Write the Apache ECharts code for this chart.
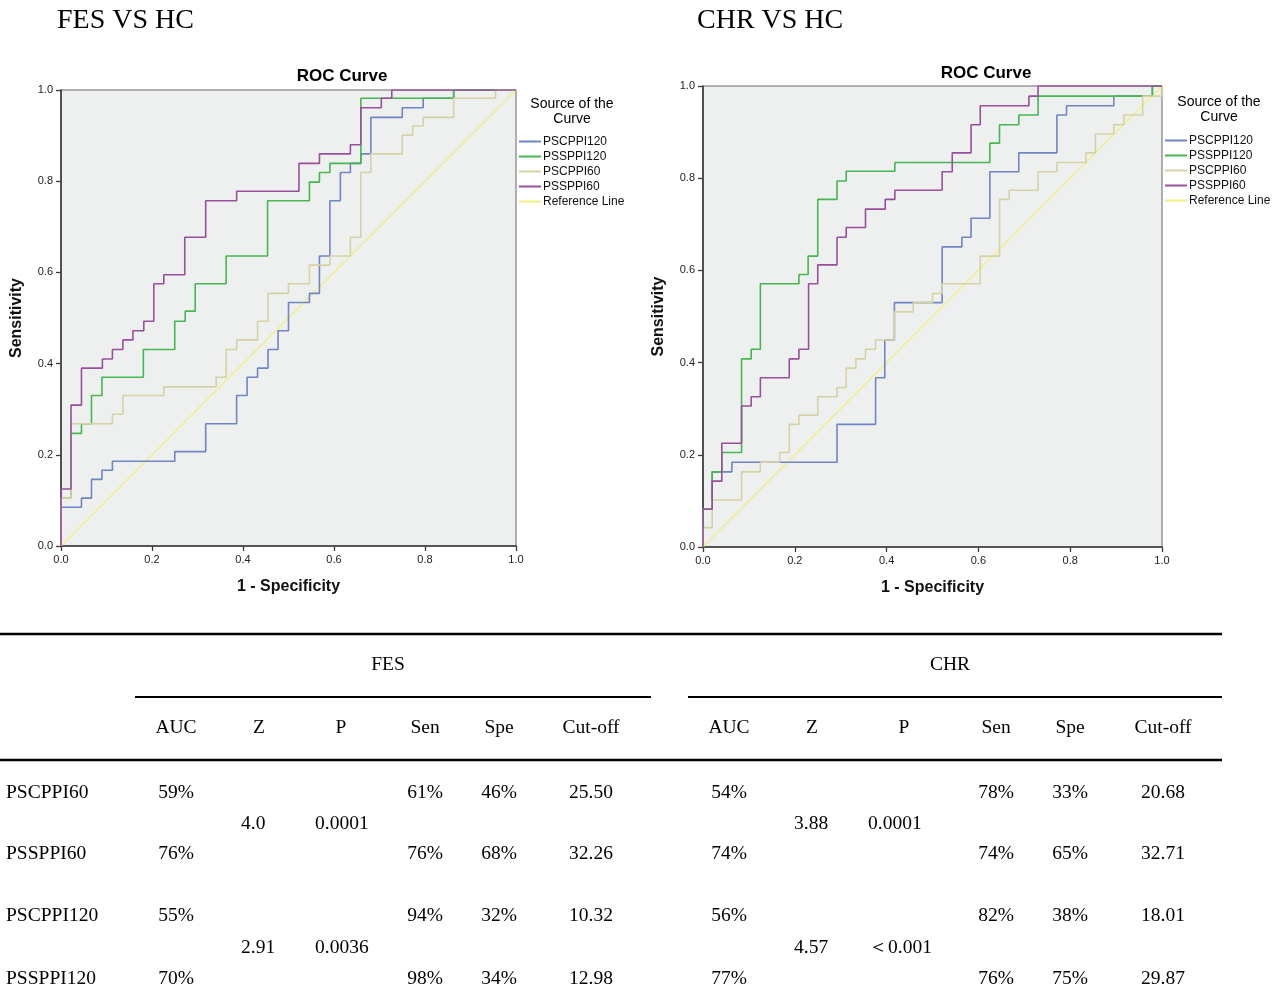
<!DOCTYPE html>
<html><head><meta charset="utf-8">
<script src="https://cdn.jsdelivr.net/npm/echarts@6/dist/echarts.min.js"></script>
<style>html,body{margin:0;padding:0;background:#fff}#c{width:1280px;height:1005px}</style>
</head><body><div id="c"></div>
<script>
// ---------- DATA ----------
const curveNames = ['PSCPPI120', 'PSSPPI120', 'PSCPPI60', 'PSSPPI60'];
const refName = 'Reference Line';
const axisTicks = [0, 0.2, 0.4, 0.6, 0.8, 1.0];

// FES vs HC ROC points [1-specificity, sensitivity]
const fes_PSCPPI120 = [[0,0],[0,0.085],[0.045,0.105],[0.067,0.146],[0.090,0.166],[0.113,0.186],[0.250,0.207],[0.318,0.268],[0.386,0.330],[0.409,0.370],[0.432,0.390],[0.455,0.431],[0.477,0.472],[0.500,0.534],[0.546,0.554],[0.568,0.636],[0.591,0.757],[0.614,0.819],[0.636,0.839],[0.659,0.860],[0.681,0.940],[0.750,0.961],[0.796,0.982],[0.863,1.0],[1,1]];
const fes_PSSPPI120 = [[0,0],[0,0.105],[0.022,0.247],[0.045,0.268],[0.067,0.330],[0.090,0.370],[0.181,0.431],[0.250,0.493],[0.273,0.515],[0.295,0.575],[0.363,0.636],[0.454,0.757],[0.546,0.798],[0.568,0.819],[0.591,0.839],[0.659,0.982],[0.863,1.0],[1,1]];
const fes_PSCPPI60 = [[0,0],[0,0.105],[0.022,0.268],[0.113,0.289],[0.136,0.330],[0.226,0.349],[0.341,0.370],[0.363,0.431],[0.386,0.452],[0.432,0.493],[0.455,0.554],[0.500,0.575],[0.546,0.616],[0.591,0.636],[0.636,0.677],[0.659,0.819],[0.681,0.860],[0.750,0.901],[0.773,0.921],[0.796,0.940],[0.863,0.982],[0.955,1.0],[1,1]];
const fes_PSSPPI60 = [[0,0],[0,0.125],[0.022,0.309],[0.045,0.390],[0.091,0.410],[0.113,0.431],[0.136,0.452],[0.158,0.472],[0.182,0.493],[0.204,0.575],[0.226,0.595],[0.272,0.677],[0.318,0.757],[0.386,0.778],[0.523,0.839],[0.568,0.860],[0.636,0.880],[0.659,0.961],[0.704,0.982],[0.727,1.0],[1,1]];

// CHR vs HC ROC points
const chr_PSCPPI120 = [[0,0],[0,0.082],[0.020,0.163],[0.063,0.184],[0.292,0.266],[0.376,0.367],[0.396,0.449],[0.417,0.530],[0.521,0.651],[0.564,0.672],[0.584,0.713],[0.625,0.814],[0.688,0.855],[0.771,0.937],[0.792,0.957],[0.895,0.978],[0.979,1.0],[1,1]];
const chr_PSSPPI120 = [[0,0],[0,0.082],[0.020,0.163],[0.041,0.205],[0.084,0.408],[0.105,0.429],[0.125,0.571],[0.209,0.591],[0.229,0.631],[0.250,0.754],[0.292,0.794],[0.312,0.815],[0.418,0.834],[0.625,0.876],[0.646,0.916],[0.688,0.937],[0.730,0.978],[0.979,1.0],[1,1]];
const chr_PSCPPI60 = [[0,0],[0,0.042],[0.020,0.102],[0.084,0.163],[0.125,0.184],[0.167,0.205],[0.188,0.266],[0.209,0.286],[0.250,0.326],[0.292,0.346],[0.312,0.388],[0.333,0.408],[0.354,0.429],[0.376,0.449],[0.417,0.510],[0.458,0.530],[0.500,0.550],[0.521,0.571],[0.604,0.631],[0.646,0.754],[0.667,0.774],[0.730,0.814],[0.771,0.834],[0.834,0.855],[0.855,0.896],[0.895,0.916],[0.917,0.937],[0.958,0.978],[1,1]];
const chr_PSSPPI60 = [[0,0],[0,0.082],[0.020,0.143],[0.041,0.225],[0.084,0.306],[0.105,0.326],[0.125,0.367],[0.188,0.408],[0.209,0.429],[0.230,0.571],[0.250,0.612],[0.292,0.672],[0.312,0.693],[0.354,0.733],[0.397,0.754],[0.418,0.774],[0.521,0.814],[0.543,0.855],[0.584,0.916],[0.604,0.957],[0.710,0.978],[0.730,1.0],[1,1]];
const refLine = [[0,0],[1,1]];

// Table
const panelTitles = ['FES VS HC', 'CHR VS HC'];
const groupHeads = ['FES', 'CHR'];
const colHeads = ['AUC', 'Z', 'P', 'Sen', 'Spe', 'Cut-off'];
const rowNames = ['PSCPPI60', 'PSSPPI60', 'PSCPPI120', 'PSSPPI120'];
const fesAUC = ['59%', '76%', '55%', '70%'];
const fesSen = ['61%', '76%', '94%', '98%'];
const fesSpe = ['46%', '68%', '32%', '34%'];
const fesCut = ['25.50', '32.26', '10.32', '12.98'];
const fesZ = ['4.0', '2.91'];
const fesP = ['0.0001', '0.0036'];
const chrAUC = ['54%', '74%', '56%', '77%'];
const chrSen = ['78%', '74%', '82%', '76%'];
const chrSpe = ['33%', '65%', '38%', '75%'];
const chrCut = ['20.68', '32.71', '18.01', '29.87'];
const chrZ = ['3.88', '4.57'];
const chrP = ['0.0001', '\uFF1C0.001'];

// ---------- STYLE / LAYOUT ----------
const colors = {PSCPPI120:'#7084c6', PSSPPI120:'#45b750', PSCPPI60:'#d6d2a4', PSSPPI60:'#9a4f9c'};
const refColor = '#f2ee80';
const grids = [
  {left: 61, top: 90, width: 455, height: 456},
  {left: 703, top: 86, width: 459, height: 461}
];
const sans = '"Liberation Sans", Arial, sans-serif';
const serif = '"Liberation Serif", "Times New Roman", serif';

function axis(gi, isX) {
  return {
    type: 'value', gridIndex: gi, min: 0, max: 1, interval: 0.2,
    axisLine: {show: true, lineStyle: {color: '#3a3a3a', width: 1.6}},
    axisTick: {show: true, length: 5, lineStyle: {color: '#3a3a3a', width: 1.3}},
    splitLine: {show: false},
    axisLabel: {fontSize: 11, color: '#222', fontFamily: sans, margin: 8,
      formatter: v => v.toFixed(1)},
    name: isX ? '1 - Specificity' : 'Sensitivity',
    nameLocation: 'middle',
    nameGap: isX ? 33 : 36,
    nameTextStyle: {fontSize: 16, fontWeight: 'bold', color: '#111', fontFamily: sans}
  };
}

const fesData = {PSCPPI120: fes_PSCPPI120, PSSPPI120: fes_PSSPPI120, PSCPPI60: fes_PSCPPI60, PSSPPI60: fes_PSSPPI60};
const chrData = {PSCPPI120: chr_PSCPPI120, PSSPPI120: chr_PSSPPI120, PSCPPI60: chr_PSCPPI60, PSSPPI60: chr_PSSPPI60};

const series = [];
[fesData, chrData].forEach((d, gi) => {
  curveNames.forEach(n => {
    series.push({type: 'line', name: n, xAxisIndex: gi, yAxisIndex: gi, data: d[n],
      step: 'end', showSymbol: false, symbol: 'none', animation: false,
      lineStyle: {color: colors[n], width: 1.6}, itemStyle: {color: colors[n]}});
  });
  series.push({type: 'line', name: refName, xAxisIndex: gi, yAxisIndex: gi, data: refLine,
    showSymbol: false, symbol: 'none', animation: false, z: 1,
    lineStyle: {color: refColor, width: 1.2}, itemStyle: {color: refColor}});
});

function legendAt(left, top) {
  return {orient: 'vertical', left: left, top: top, padding: 0, itemWidth: 22, itemHeight: 2, icon: 'rect',
    itemGap: 2, selectedMode: false, data: curveNames.concat([refName]),
    textStyle: {fontSize: 12, color: '#111', fontFamily: sans, lineHeight: 13, padding: [0,0,0,-3]}};
}

// graphic elements
const G = [];
function txt(x, y, s, font, align, extra) {
  G.push(Object.assign({type: 'text', silent: true,
    style: {x: x, y: y, text: s, font: font, fill: '#000', textAlign: align || 'center', textVerticalAlign: 'middle'}}, extra || {}));
}
function hline(x1, x2, y, w) {
  G.push({type: 'line', silent: true, shape: {x1: x1, y1: y, x2: x2, y2: y}, style: {stroke: '#000', lineWidth: w}});
}
// panel titles
txt(57, 21, panelTitles[0], '28px ' + serif, 'left');
txt(697, 21, panelTitles[1], '28px ' + serif, 'left');
txt(342, 76, 'ROC Curve', 'bold 17px ' + sans, 'center');
txt(986, 73, 'ROC Curve', 'bold 17px ' + sans, 'center');
// legend titles
txt(572, 104, 'Source of the', '14px ' + sans, 'center');
txt(572, 119, 'Curve', '14px ' + sans, 'center');
txt(1219, 102, 'Source of the', '14px ' + sans, 'center');
txt(1219, 117, 'Curve', '14px ' + sans, 'center');

// table
const tf = '19.5px ' + serif;
hline(0, 1222, 634, 2.5);
hline(135, 651, 697, 2);
hline(688, 1222, 697, 2);
hline(0, 1222, 760, 2.5);
txt(388, 665, groupHeads[0], tf);
txt(950, 665, groupHeads[1], tf);
const fesCols = [176, 259, 341, 425, 499, 591];
const chrCols = [729, 812, 904, 996, 1070, 1163];
colHeads.forEach((h, i) => { txt(fesCols[i], 728, h, tf); txt(chrCols[i], 728, h, tf); });
const rowY = [793, 854, 916, 979];
const pairY = [824, 948];
rowNames.forEach((r, i) => {
  txt(6, rowY[i], r, tf, 'left');
  txt(fesCols[0], rowY[i], fesAUC[i], tf);
  txt(fesCols[3], rowY[i], fesSen[i], tf);
  txt(fesCols[4], rowY[i], fesSpe[i], tf);
  txt(fesCols[5], rowY[i], fesCut[i], tf);
  txt(chrCols[0], rowY[i], chrAUC[i], tf);
  txt(chrCols[3], rowY[i], chrSen[i], tf);
  txt(chrCols[4], rowY[i], chrSpe[i], tf);
  txt(chrCols[5], rowY[i], chrCut[i], tf);
});
pairY.forEach((y, i) => {
  txt(241, y, fesZ[i], tf, 'left');
  txt(315, y, fesP[i], tf, 'left');
  txt(794, y, chrZ[i], tf, 'left');
  txt(868, y, chrP[i], tf, 'left');
});

const chart = echarts.init(document.getElementById('c'), null, {renderer: 'canvas'});
chart.setOption({
  animation: false,
  backgroundColor: '#fff',
  grid: grids.map(g => Object.assign({show: true, backgroundColor: '#eef0f0', borderColor: '#666', borderWidth: 1}, g)),
  xAxis: [axis(0, true), axis(1, true)],
  yAxis: [axis(0, false), axis(1, false)],
  legend: [legendAt(519, 135), legendAt(1165, 134)],
  series: series,
  graphic: G
});
</script></body></html>
